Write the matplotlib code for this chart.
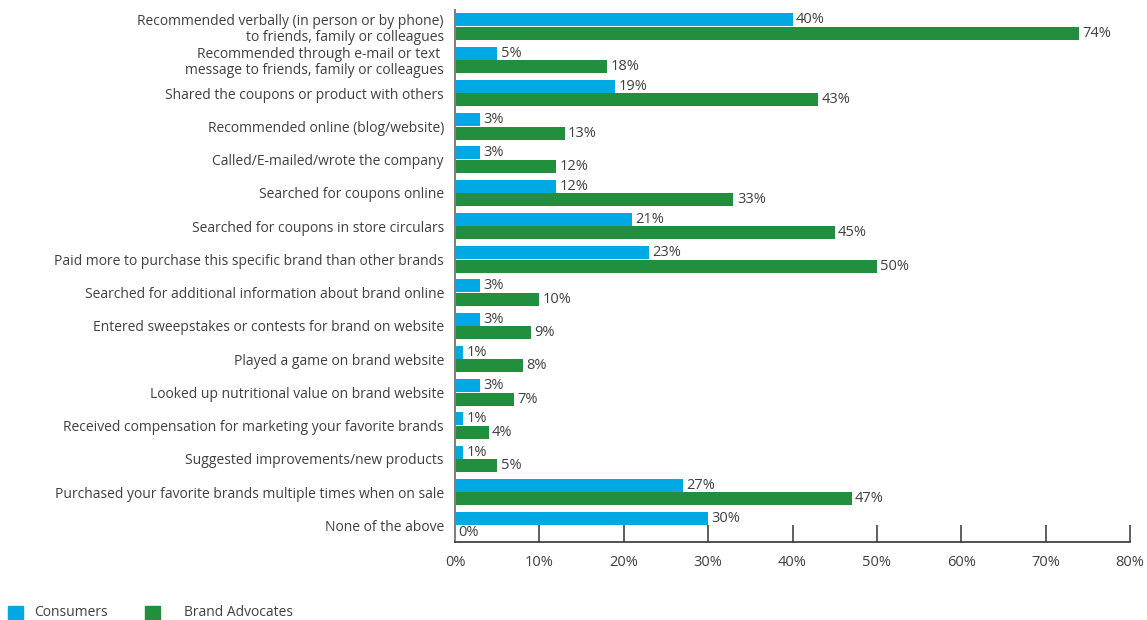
import matplotlib
matplotlib.use("Agg")
import matplotlib.pyplot as plt
import numpy as np
from matplotlib.patches import Rectangle

categories = [
    "Recommended verbally (in person or by phone)\nto friends, family or colleagues",
    "Recommended through e-mail or text \nmessage to friends, family or colleagues",
    "Shared the coupons or product with others",
    "Recommended online (blog/website)",
    "Called/E-mailed/wrote the company",
    "Searched for coupons online",
    "Searched for coupons in store circulars",
    "Paid more to purchase this specific brand than other brands",
    "Searched for additional information about brand online",
    "Entered sweepstakes or contests for brand on website",
    "Played a game on brand website",
    "Looked up nutritional value on brand website",
    "Received compensation for marketing your favorite brands",
    "Suggested improvements/new products",
    "Purchased your favorite brands multiple times when on sale",
    "None of the above",
]
consumers = [40, 5, 19, 3, 3, 12, 21, 23, 3, 3, 1, 3, 1, 1, 27, 30]
advocates = [74, 18, 43, 13, 12, 33, 45, 50, 10, 9, 8, 7, 4, 5, 47, 0]
series_names = ["Consumers", "Brand Advocates"]
xticks = [0, 10, 20, 30, 40, 50, 60, 70, 80]

blue = "#00A9E4"
green = "#218F3E"
txt = "#404040"

plt.rcParams['font.family'] = ['Open Sans', 'DejaVu Sans']

W, H = 1147, 620
fig = plt.figure(figsize=(W / 100, H / 100), dpi=100)
ax = fig.add_axes([455/W, 1 - 542/H, (1130 - 455)/W, (542 - 10)/H])

y = np.arange(len(categories))
h = 0.39
off = 0.205
ax.barh(y - off, consumers, height=h, color=blue)
ax.barh(y + off, advocates, height=h, color=green)

for yi, v in zip(y, consumers):
    ax.text(v + 0.4, yi - off, f"{v}%", va="center", ha="left", fontsize=10.5, color=txt)
for yi, v in zip(y, advocates):
    ax.text(v + 0.4, yi + off, f"{v}%", va="center", ha="left", fontsize=10.5, color=txt)

ax.set_xlim(0, 80)
ax.set_ylim(len(categories) - 0.5, -0.5)
ax.set_xticks(xticks)
ax.set_xticklabels([f"{t}%" for t in xticks], fontsize=10.5, color=txt)
ax.set_yticks(y)
ax.set_yticklabels(categories, fontsize=10, color=txt, linespacing=1.1)
ax.tick_params(axis="y", length=0, pad=8)
ax.tick_params(axis="x", direction="in", length=12, width=1.2, color="#444444", pad=9)

for s in ["top", "right"]:
    ax.spines[s].set_visible(False)
ax.spines["left"].set_color("#808080")
ax.spines["left"].set_linewidth(1.5)
ax.spines["bottom"].set_color("#333333")
ax.spines["bottom"].set_linewidth(1.2)

# legend drawn manually to match the spacing of the reference
leg_items = [(series_names[0], blue, 8, 34), (series_names[1], green, 145, 184)]
for name, col, sx, tx in leg_items:
    fig.patches.append(Rectangle((sx / W, 1 - 620 / H), 15 / W, 14 / H,
                                 transform=fig.transFigure, color=col))
    fig.text(tx / W, 1 - 612.5 / H, name, fontsize=10, color=txt, va="center", ha="left")

fig.savefig("out.png", dpi=100)
